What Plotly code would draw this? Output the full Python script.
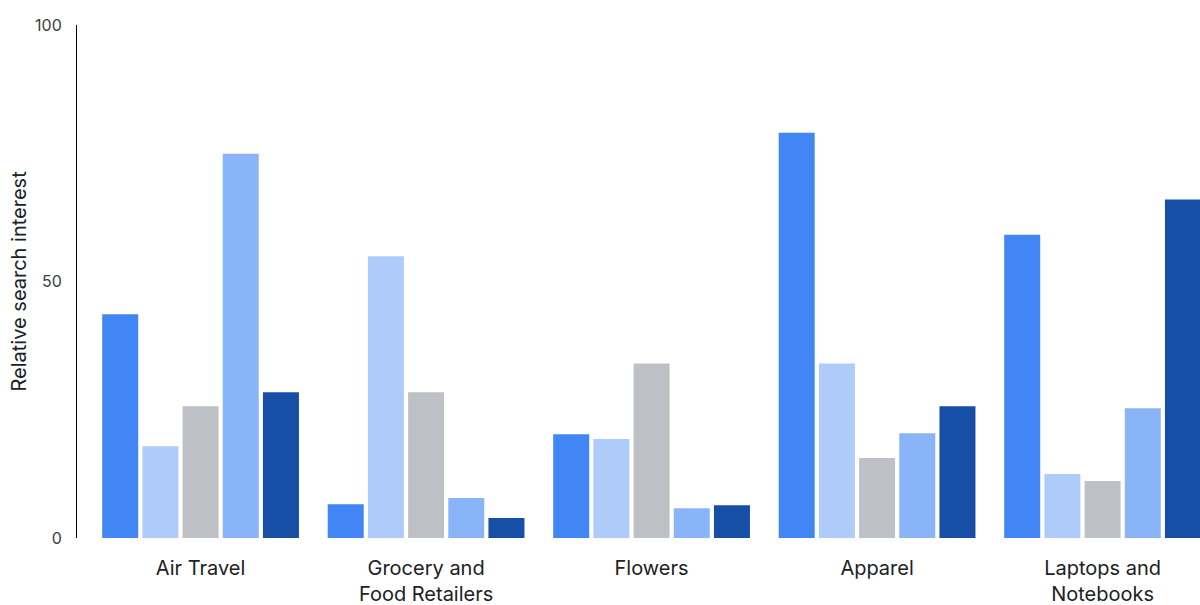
import plotly.graph_objects as go

categories = ["Air Travel", "Grocery and<br>Food Retailers", "Flowers", "Apparel", "Laptops and<br>Notebooks"]
series_names = ["Series 1", "Series 2", "Series 3", "Series 4", "Series 5"]
series_values = [
    [43.6, 6.6, 20.2, 79.0, 59.1],
    [17.9, 54.9, 19.3, 34.0, 12.5],
    [25.7, 28.4, 34.0, 15.6, 11.1],
    [74.9, 7.8, 5.8, 20.4, 25.3],
    [28.4, 3.9, 6.4, 25.7, 66.0],
]
colors = ["#4285F4", "#AECBFA", "#BDC1C6", "#8AB4F8", "#174EA6"]
y_ticks = [0, 50, 100]
y_title = "Relative search interest"

fig = go.Figure()
for name, vals, col in zip(series_names, series_values, colors):
    fig.add_trace(go.Bar(x=categories, y=vals, name=name, marker=dict(color=col, line=dict(width=0))))

font_family = "Inter, Roboto, sans-serif"
fig.update_layout(
    width=1200, height=605,
    margin=dict(l=77, r=0, t=25, b=67),
    barmode="group", bargap=0.109, bargroupgap=0.104,
    showlegend=False,
    plot_bgcolor="white", paper_bgcolor="white",
    font=dict(family=font_family, color="#202124"),
)
fig.update_xaxes(
    range=[-0.548, 4.432], showgrid=False, zeroline=False, showline=False,
    ticks="", tickfont=dict(size=20, color="#202124"), ticklabelstandoff=16,
)
fig.update_yaxes(
    range=[0, 100], tickvals=y_ticks, showgrid=False, zeroline=False,
    showline=True, linecolor="#000000", linewidth=1, ticks="",
    tickfont=dict(size=16, color="#3c4043"), ticklabelstandoff=11,
)
fig.add_annotation(
    text=y_title, xref="paper", yref="paper", x=(18 - 77) / 1123, y=0.5,
    xanchor="center", yanchor="middle", textangle=-90, showarrow=False,
    font=dict(size=20, color="#202124"),
)
fig.write_html("out.html")
